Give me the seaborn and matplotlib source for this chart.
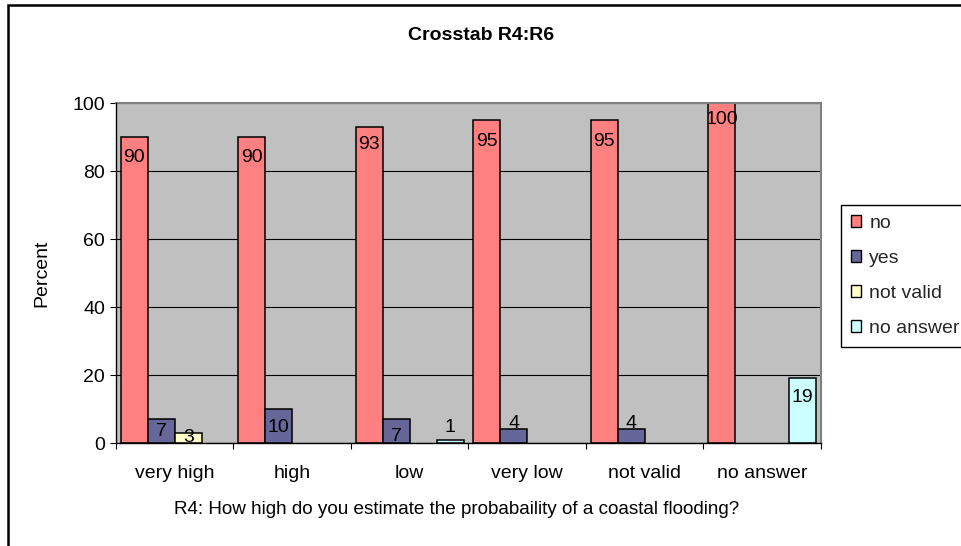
import numpy as np
import pandas as pd
import matplotlib
matplotlib.use("Agg")
import matplotlib.pyplot as plt
from matplotlib.patches import Rectangle, Patch
import seaborn as sns

# Answer categories of R4 and the R6 response series (percent)
categories = ["very high", "high", "low", "very low", "not valid", "no answer"]
series = ["no", "yes", "not valid", "no answer"]
no_vals = [90, 90, 93, 95, 95, 100]
yes_vals = [7, 10, 7, 4, 4, np.nan]
not_valid_vals = [3, np.nan, np.nan, np.nan, np.nan, np.nan]
no_answer_vals = [np.nan, np.nan, 1, np.nan, np.nan, 19]
y_ticks = [0, 20, 40, 60, 80, 100]

colors = ["#FF8080", "#666699", "#FFFFCC", "#CCFFFF"]

# vertical shift (pixels) of each value label's centre relative to its bar top
label_shift = {
    "no": [-21, -20, -18, -21, -21, -16],
    "yes": [-12, -19, -17, 6, 6, 0],
    "not valid": [-4.5, 0, 0, 0, 0, 0],
    "no answer": [0, 0, 12, 0, 0, -19],
}

rows = []
for s, vals in zip(series, [no_vals, yes_vals, not_valid_vals, no_answer_vals]):
    for c, v in zip(categories, vals):
        if not np.isnan(v):
            rows.append({"category": c, "series": s, "percent": v})
df = pd.DataFrame(rows)

sns.set_style("white")
plt.rcParams["font.family"] = ["Liberation Sans", "DejaVu Sans"]

FS = 14
W, H = 962, 546
fig = plt.figure(figsize=(W / 100, H / 100), dpi=100)
ax = fig.add_axes([116 / W, 1 - 443 / H, 705 / W, 340 / H])
ax.set_facecolor("#C0C0C0")

sns.barplot(data=df, x="category", y="percent", hue="series",
            order=categories, hue_order=series,
            palette=dict(zip(series, colors)), saturation=1,
            width=0.92, edgecolor="black", linewidth=1.1,
            legend=False, ax=ax)

ax.set_xlim(-0.5, len(categories) - 0.5)
ax.set_ylim(0, 100)
ax.set_yticks(y_ticks)
ax.yaxis.grid(True, color="black", linewidth=0.8)
ax.xaxis.grid(False)
ax.set_axisbelow(True)

for side in ("top", "right"):
    ax.spines[side].set_color("#808080")
    ax.spines[side].set_linewidth(1.5)
for side in ("left", "bottom"):
    ax.spines[side].set_color("black")
    ax.spines[side].set_linewidth(1.0)
    ax.spines[side].set_zorder(5)

ax.set_xticks(range(len(categories)))
ax.set_xticklabels(categories)
ax.set_xticks(np.arange(-0.5, len(categories), 1.0), minor=True)
ax.tick_params(axis="x", which="major", length=0, pad=15.5, labelsize=FS, colors="black")
ax.tick_params(axis="x", which="minor", direction="out", length=4, width=0.8, color="black", bottom=True)
ax.tick_params(axis="y", direction="out", length=4, width=0.8, color="black", pad=4,
               labelsize=FS, left=True, labelcolor="black")

# value labels on the bars
for s, cont in zip(series, ax.containers):
    for bar in cont:
        h = bar.get_height()
        if np.isnan(h):
            continue
        xc = bar.get_x() + bar.get_width() / 2
        idx = int(round(xc))
        dy = label_shift[s][idx] * 0.72
        t = ax.annotate(f"{h:.0f}", xy=(xc, h), xytext=(0, dy), textcoords="offset points",
                        ha="center", va="center", fontsize=FS, color="black", zorder=6)
        t.set_clip_on(True)

ax.set_xlabel("R4: How high do you estimate the probabaility of a coastal flooding?",
              fontsize=13.6, color="black")
ax.xaxis.set_label_coords((457 - 116) / 705, -(510 - 443) / 340)
ax.xaxis.label.set_va("center")
ax.set_ylabel("Percent", fontsize=FS, color="black")
ax.yaxis.set_label_coords((42 - 116) / 705, 0.5)
ax.yaxis.label.set_va("center")

fig.text(481 / W, 1 - 35 / H, "Crosstab R4:R6", ha="center", va="center",
         fontsize=14, fontweight="bold", color="black")

handles = [Patch(facecolor=c, edgecolor="black", linewidth=1) for c in colors]
leg = fig.legend(handles, series, loc="upper left",
                 bbox_to_anchor=(841 / W, 1 - 205 / H), frameon=True, fancybox=False,
                 edgecolor="black", framealpha=1, handlelength=0.55, handleheight=0.55,
                 handletextpad=0.4, labelspacing=0.93, borderpad=0.5, fontsize=FS,
                 borderaxespad=0)
leg.get_frame().set_linewidth(1.0)

# chart area border
fig.add_artist(Rectangle((8 / W, -0.1), 1.2, 1 - 5 / H + 0.1, transform=fig.transFigure,
                         fill=False, edgecolor="black", linewidth=1.8))

fig.savefig("out.png", dpi=100)
